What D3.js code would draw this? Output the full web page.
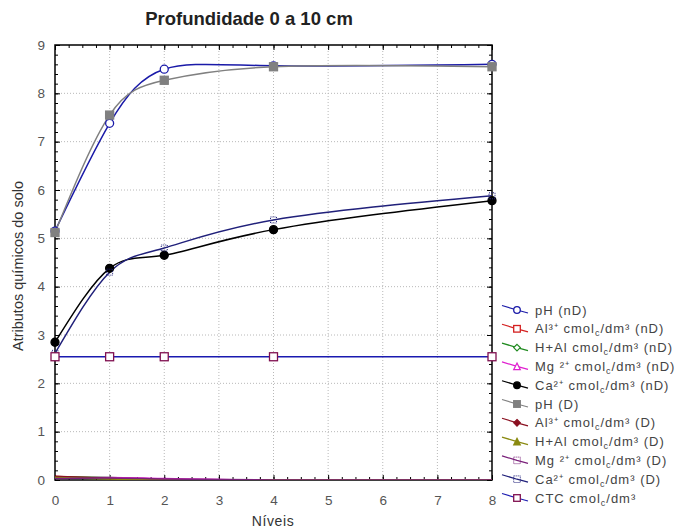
<!DOCTYPE html>
<html>
<head>
<meta charset="utf-8">
<script src="https://cdn.jsdelivr.net/npm/d3@7"></script>
<style>
  body { margin: 0; background: #fff; }
  text { font-family: Arial, "Liberation Sans", sans-serif; }
</style>
</head>
<body>
<div id="chart"></div>
<script>
// níveis (eixo x)
var niveis = [0, 1, 2, 4, 8];

// séries
var phND  = [5.15, 7.38, 8.50, 8.57, 8.60];
var alND  = [0.07, 0.04, 0.01, 0, 0];
var halND = [0.06, 0.05, 0.01, 0, 0];
var mgND  = [0.04, 0.05, 0.03, 0, 0];
var caND  = [2.85, 4.38, 4.65, 5.18, 5.78];
var phD   = [5.12, 7.55, 8.27, 8.55, 8.55];
var alD   = [0.08, 0.03, 0, 0, 0];
var halD  = [0.05, 0.02, 0, 0, 0];
var mgD   = [0.03, 0.04, 0.02, 0, 0];
var caD   = [2.62, 4.30, 4.80, 5.38, 5.88];
var ctc   = [2.55, 2.55, 2.55, 2.55, 2.55];

var xTicks = [0, 1, 2, 3, 4, 5, 6, 7, 8];
var yTicks = [0, 1, 2, 3, 4, 5, 6, 7, 8, 9];

var legendLabels = [
  "pH (nD)",
  "Al³⁺ cmol_c/dm³ (nD)",
  "H+Al cmol_c/dm³ (nD)",
  "Mg ²⁺ cmol_c/dm³ (nD)",
  "Ca²⁺ cmol_c/dm³ (nD)",
  "pH (D)",
  "Al³⁺ cmol_c/dm³ (D)",
  "H+Al cmol_c/dm³ (D)",
  "Mg ²⁺ cmol_c/dm³ (D)",
  "Ca²⁺ cmol_c/dm³ (D)",
  "CTC cmol_c/dm³"
];

var series = [
  { values: phND,  line: "#1a1aa8", mark: "#1a1aa8", shape: "circle",   fill: "#fff", size: 4 },
  { values: alND,  line: "#d42020", mark: "#d42020", shape: "square",   fill: "#fff", size: 4 },
  { values: halND, line: "#1f8a1f", mark: "#1f8a1f", shape: "diamond",  fill: "#fff", size: 4 },
  { values: mgND,  line: "#e020d0", mark: "#e020d0", shape: "triangle", fill: "#fff", size: 4 },
  { values: caND,  line: "#000000", mark: "#000000", shape: "circle",   fill: "#000", size: 4 },
  { values: phD,   line: "#808080", mark: "#808080", shape: "square",   fill: "#808080", size: 4 },
  { values: alD,   line: "#8a1020", mark: "#8a1020", shape: "diamond",  fill: "#8a1020", size: 4 },
  { values: halD,  line: "#8a8a10", mark: "#8a8a10", shape: "triangle", fill: "#8a8a10", size: 4 },
  { values: mgD,   line: "#7a207a", mark: "#7a207a", shape: "dots",     fill: "none", size: 3 },
  { values: caD,   line: "#20207a", mark: "#20207a", shape: "dots",     fill: "none", size: 3 },
  { values: ctc,   line: "#1a1ab0", mark: "#801050", shape: "square",   fill: "#fff", size: 4 }
];

var width = 680, height = 531;
var margin = { left: 55, right: 188, top: 45, bottom: 51 };
var iw = width - margin.left - margin.right, ih = height - margin.top - margin.bottom;

var x = d3.scaleLinear().domain([0, 8]).range([margin.left, margin.left + iw]);
var y = d3.scaleLinear().domain([0, 9]).range([margin.top + ih, margin.top]);

var svg = d3.select("#chart").append("svg").attr("width", width).attr("height", height);

svg.append("defs").append("clipPath").attr("id", "clip")
  .append("rect").attr("x", margin.left).attr("y", margin.top).attr("width", iw).attr("height", ih);

// grade pontilhada
svg.append("g").selectAll("line").data(xTicks.slice(1, -1)).enter().append("line")
  .attr("x1", function(d) { return x(d); }).attr("x2", function(d) { return x(d); })
  .attr("y1", margin.top).attr("y2", margin.top + ih)
  .attr("stroke", "#b8b8b8").attr("stroke-dasharray", "1,2");
svg.append("g").selectAll("line").data(yTicks.slice(1, -1)).enter().append("line")
  .attr("y1", function(d) { return y(d); }).attr("y2", function(d) { return y(d); })
  .attr("x1", margin.left).attr("x2", margin.left + iw)
  .attr("stroke", "#b8b8b8").attr("stroke-dasharray", "1,2");

// eixos com marcas para dentro
var xMinor = d3.range(0, 8.001, 0.25), yMinor = d3.range(0, 9.001, 0.2);
function axisGroup(axis, tx, ty) {
  var g = svg.append("g").attr("transform", "translate(" + tx + "," + ty + ")").call(axis);
  g.select(".domain").remove();
  g.selectAll("line").attr("stroke", "#000");
  return g;
}
axisGroup(d3.axisBottom(x).tickValues(xMinor).tickSize(-3).tickFormat(""), 0, margin.top + ih);
axisGroup(d3.axisBottom(x).tickValues(xTicks).tickSize(-5).tickFormat(""), 0, margin.top + ih);
axisGroup(d3.axisTop(x).tickValues(xMinor).tickSize(-3).tickFormat(""), 0, margin.top);
axisGroup(d3.axisTop(x).tickValues(xTicks).tickSize(-5).tickFormat(""), 0, margin.top);
axisGroup(d3.axisLeft(y).tickValues(yMinor).tickSize(-3).tickFormat(""), margin.left, 0);
axisGroup(d3.axisLeft(y).tickValues(yTicks).tickSize(-5).tickFormat(""), margin.left, 0);
axisGroup(d3.axisRight(y).tickValues(yMinor).tickSize(-3).tickFormat(""), margin.left + iw, 0);
axisGroup(d3.axisRight(y).tickValues(yTicks).tickSize(-5).tickFormat(""), margin.left + iw, 0);

var xl = svg.append("g").attr("transform", "translate(0," + (margin.top + ih) + ")")
  .call(d3.axisBottom(x).tickValues(xTicks).tickSize(0).tickPadding(15));
xl.select(".domain").remove();
xl.selectAll("text").attr("font-size", 13.5).attr("fill", "#555");
var yl = svg.append("g").attr("transform", "translate(" + margin.left + ",0)")
  .call(d3.axisLeft(y).tickValues(yTicks).tickSize(0).tickPadding(10));
yl.select(".domain").remove();
yl.selectAll("text").attr("font-size", 13.5).attr("fill", "#555");

svg.append("rect").attr("x", margin.left).attr("y", margin.top).attr("width", iw).attr("height", ih)
  .attr("fill", "none").attr("stroke", "#000").attr("stroke-width", 1.5);

// curvas
var line = d3.line().x(function(d, i) { return x(niveis[i]); }).y(function(d) { return y(d); })
  .curve(d3.curveNatural);

var plot = svg.append("g");
plot.selectAll("path.serie").data(series).enter().append("path").attr("class", "serie")
  .attr("clip-path", "url(#clip)")
  .attr("d", function(s) { return line(s.values); })
  .attr("fill", "none").attr("stroke", function(s) { return s.line; }).attr("stroke-width", 1.5);

function drawMarker(g, s, cx, cy) {
  var r = s.size;
  if (s.shape === "circle") {
    g.append("circle").attr("cx", cx).attr("cy", cy).attr("r", r)
      .attr("fill", s.fill).attr("stroke", s.mark).attr("stroke-width", 1.3);
  } else if (s.shape === "square") {
    g.append("rect").attr("x", cx - r).attr("y", cy - r).attr("width", 2 * r).attr("height", 2 * r)
      .attr("fill", s.fill).attr("stroke", s.mark).attr("stroke-width", 1.3);
  } else if (s.shape === "diamond") {
    g.append("path").attr("d", "M" + cx + "," + (cy - r) + "L" + (cx + r) + "," + cy + "L" + cx + "," + (cy + r) + "L" + (cx - r) + "," + cy + "Z")
      .attr("fill", s.fill).attr("stroke", s.mark).attr("stroke-width", 1.2);
  } else if (s.shape === "triangle") {
    g.append("path").attr("d", "M" + cx + "," + (cy - r) + "L" + (cx + r) + "," + (cy + r) + "L" + (cx - r) + "," + (cy + r) + "Z")
      .attr("fill", s.fill).attr("stroke", s.mark).attr("stroke-width", 1.2);
  } else {
    g.append("rect").attr("x", cx - r).attr("y", cy - r).attr("width", 2 * r).attr("height", 2 * r)
      .attr("fill", "none").attr("stroke", s.mark).attr("stroke-width", 1).attr("stroke-dasharray", "1,1");
  }
}

series.forEach(function(s) {
  var g = plot.append("g");
  s.values.forEach(function(v, i) {
    if (v > 0.5) drawMarker(g, s, x(niveis[i]), y(v));
  });
});

// legenda
var lg = svg.append("g");
legendLabels.forEach(function(lab, i) {
  var s = series[i];
  var cy = 310 + i * 18.8;
  lg.append("path").attr("d", "M502," + (cy - 4.5) + "L517," + cy + "L528," + (cy + 3))
    .attr("fill", "none").attr("stroke", s.line).attr("stroke-width", 1.2);
  drawMarker(lg, { shape: s.shape, size: 3.3, fill: s.fill, mark: s.mark }, 517, cy);
  var t = lg.append("text").attr("x", 535).attr("y", cy + 4.5).attr("font-size", 13)
    .attr("fill", "#444").attr("letter-spacing", 1);
  var parts = lab.split("_c");
  t.append("tspan").text(parts[0]);
  if (parts.length > 1) {
    t.append("tspan").attr("font-size", 9).attr("dy", 3).text("c");
    t.append("tspan").attr("dy", -3).text(parts[1]);
  }
});

// títulos
svg.append("text").attr("x", 249).attr("y", 25).attr("text-anchor", "middle")
  .attr("font-size", 18.5).attr("font-weight", "bold").attr("fill", "#222")
  .text("Profundidade 0 a 10 cm");
svg.append("text").attr("x", 273).attr("y", 526).attr("text-anchor", "middle")
  .attr("font-size", 14).attr("fill", "#333").attr("letter-spacing", 0.6).text("Níveis");
svg.append("text").attr("transform", "translate(23," + 266 + ") rotate(-90)").attr("text-anchor", "middle")
  .attr("font-size", 14.5).attr("fill", "#333").text("Atributos químicos do solo");
</script>
</body>
</html>
